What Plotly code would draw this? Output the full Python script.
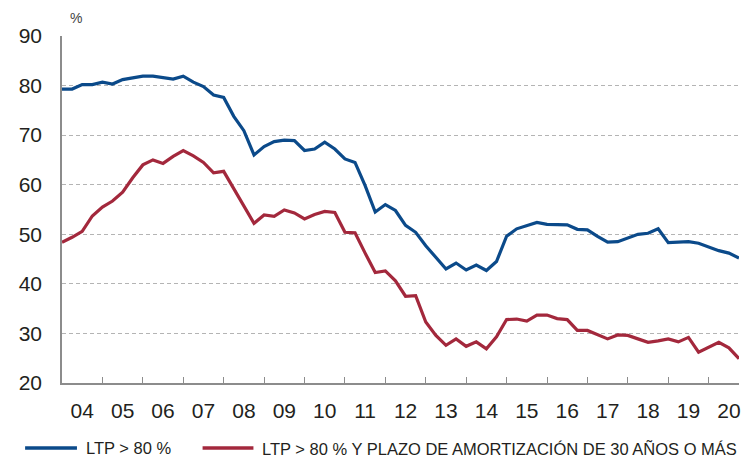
import plotly.graph_objects as go

# Quarterly observations, 2004 Q1 to 2020 Q4 (% of new mortgages)
start_year = 2004
ltp_80 = [
    79.3, 79.3, 80.2, 80.2, 80.7, 80.3, 81.2, 81.5, 81.9, 81.9, 81.6, 81.3, 81.9, 80.7,
    79.8, 78.1, 77.6, 73.8, 70.9, 66.0, 67.7, 68.7, 69.0, 68.9, 66.9, 67.2, 68.6,
    67.2, 65.2, 64.5, 59.8, 54.5, 56.0, 54.8, 51.8, 50.4, 47.7, 45.3, 43.0, 44.2,
    42.8, 43.8, 42.7, 44.5, 49.6, 51.1, 51.7, 52.4, 52.0, 52.0, 51.9, 51.0, 50.9, 49.6,
    48.4, 48.5, 49.2, 50.0, 50.2, 51.1, 48.3, 48.4, 48.5, 48.2, 47.4, 46.7, 46.2, 45.2,
]
ltp_80_30y = [
    48.4, 49.4, 50.6, 53.7, 55.5, 56.7, 58.5, 61.4, 64.0, 65.0, 64.3, 65.7, 66.9, 65.8,
    64.5, 62.4, 62.7, 59.2, 55.7, 52.2, 53.9, 53.6, 54.9, 54.3, 53.1, 54.0, 54.6,
    54.4, 50.4, 50.3, 46.2, 42.3, 42.6, 40.6, 37.5, 37.6, 32.3, 29.6, 27.6, 28.9,
    27.4, 28.3, 26.9, 29.3, 32.8, 32.9, 32.5, 33.7, 33.7, 33.0, 32.8, 30.6, 30.6, 29.8,
    28.9, 29.7, 29.6, 28.9, 28.2, 28.5, 28.9, 28.3, 29.2, 26.2, 27.2, 28.2, 27.1, 24.9,
]
year_labels = ["04", "05", "06", "07", "08", "09", "10", "11", "12",
               "13", "14", "15", "16", "17", "18", "19", "20"]
series_names = ["LTP > 80 %", "LTP > 80 % Y PLAZO DE AMORTIZACIÓN DE 30 AÑOS O MÁS"]

x = [start_year + i / 4 for i in range(len(ltp_80))]
label_pos = [start_year + k + 0.5 for k in range(len(year_labels))]
year_bounds = [start_year + k for k in range(1, len(year_labels))]

BLUE = "#0b4a8a"
RED = "#a3283c"
TEXT = "#231f20"
AXIS = "#8c8c8c"
GRID = "#b4b4b4"
W, H = 748, 462
M = dict(l=62, r=7, t=36, b=79)
plot_w = W - M["l"] - M["r"]
plot_h = H - M["t"] - M["b"]

fig = go.Figure()
fig.add_trace(go.Scatter(x=x, y=ltp_80, mode="lines", name=series_names[0],
                         line=dict(color=BLUE, width=3.2), showlegend=False))
fig.add_trace(go.Scatter(x=x, y=ltp_80_30y, mode="lines", name=series_names[1],
                         line=dict(color=RED, width=3.2), showlegend=False))

fig.update_layout(
    width=W, height=H, margin=M,
    paper_bgcolor="white", plot_bgcolor="white",
    font=dict(family="Liberation Sans, Arial, sans-serif", color=TEXT),
    xaxis=dict(
        range=[start_year, start_year + (len(x) - 1) / 4],
        tickmode="array", tickvals=label_pos, ticktext=year_labels,
        ticks="", showgrid=False, zeroline=False,
        showline=True, linecolor=AXIS, linewidth=1.5,
        tickfont=dict(size=21, color=TEXT),
        ticklabelstandoff=8,
        minor=dict(tickmode="array", tickvals=year_bounds, ticks="inside",
                   ticklen=6, tickcolor=AXIS, tickwidth=1, showgrid=False),
    ),
    yaxis=dict(
        range=[20, 90], tickmode="array", tickvals=list(range(20, 91, 10)),
        ticks="", showgrid=True, gridcolor=GRID, gridwidth=1, griddash="4px,3px",
        zeroline=False, showline=True, linecolor=AXIS, linewidth=1.5,
        tickfont=dict(size=21, color=TEXT), ticklabelstandoff=14,
    ),
)


def px_x(px):
    return (px - M["l"]) / plot_w


def px_y(py):
    return (H - M["b"] - py) / plot_h


# Legend row below the axis: short line sample followed by its label
legend_y = 448
for (x0, x1, tx), name, color in zip([(25, 77, 84), (203, 254, 261)], series_names, [BLUE, RED]):
    fig.add_shape(type="line", xref="paper", yref="paper",
                  x0=px_x(x0), x1=px_x(x1), y0=px_y(legend_y), y1=px_y(legend_y),
                  line=dict(color=color, width=3.5))
    fig.add_annotation(text=name, xref="paper", yref="paper", x=px_x(tx), y=px_y(legend_y),
                       xanchor="left", yanchor="middle", showarrow=False,
                       font=dict(size=16.5, color=TEXT))

fig.add_annotation(text="%", xref="paper", yref="paper", x=px_x(76), y=px_y(18),
                   xanchor="center", yanchor="middle", showarrow=False,
                   font=dict(size=14, color="#444444"))

fig.write_html("out.html")
